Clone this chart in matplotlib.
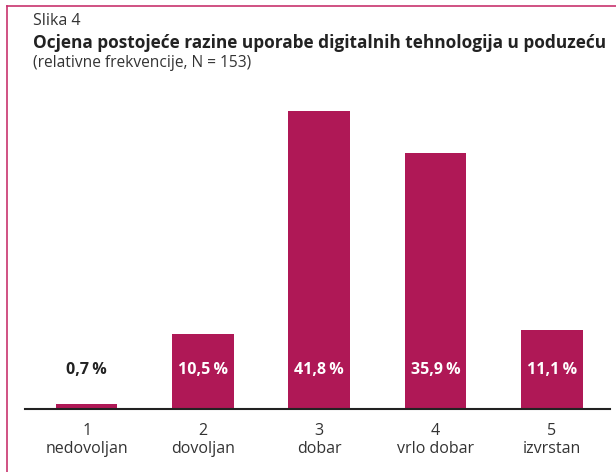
import matplotlib.pyplot as plt
from matplotlib.lines import Line2D

categories = ['1\nnedovoljan', '2\ndovoljan', '3\ndobar', '4\nvrlo dobar', '5\nizvrstan']
values = [0.7, 10.5, 41.8, 35.9, 11.1]
labels = ['0,7\u2009%', '10,5\u2009%', '41,8\u2009%', '35,9\u2009%', '11,1\u2009%']

bar_color = '#AF1856'
W, H = 616, 472
plt.rcParams['font.family'] = ['Open Sans', 'DejaVu Sans']

fig = plt.figure(figsize=(W / 100, H / 100), dpi=100)
ax = fig.add_axes([25 / W, 63 / H, 585 / W, 321 / H])

x = range(len(values))
ax.bar(x, values, width=0.53, color=bar_color)
ax.set_xlim(-0.53, 4.5)
ax.set_ylim(0, 45)

for i, (v, lab) in enumerate(zip(values, labels)):
    col = 'white' if v > 5 else '#222222'
    ax.text(i, 5.4, lab, ha='center', va='center', fontsize=11.5,
            fontweight='bold', color=col)

ax.set_xticks(list(x))
ax.set_xticklabels(categories, fontsize=11.5, color='#333333', linespacing=1.15)
ax.tick_params(axis='x', length=0, pad=10)
ax.set_yticks([])
for s in ['top', 'right', 'left']:
    ax.spines[s].set_visible(False)
ax.spines['bottom'].set_linewidth(1.5)
ax.spines['bottom'].set_color('#222222')

# frame lines (top and left)
fig.add_artist(Line2D([7 / W, 1], [1 - 6 / H, 1 - 6 / H], color='#C8336E', lw=1.2))
fig.add_artist(Line2D([7 / W, 7 / W], [0, 1 - 6 / H], color='#C8336E', lw=1.2))

fig.text(33 / W, 1 - 21 / H, 'Slika 4', fontsize=11.5, color='#333333', va='center')
fig.text(33 / W, 1 - 43 / H, 'Ocjena postojeće razine uporabe digitalnih tehnologija u poduzeću',
         fontsize=12.4, fontweight='bold', color='#222222', va='center')
fig.text(33 / W, 1 - 63 / H, '(relativne frekvencije, N = 153)', fontsize=11.2,
         color='#333333', va='center')

fig.savefig('out.png', dpi=100)
